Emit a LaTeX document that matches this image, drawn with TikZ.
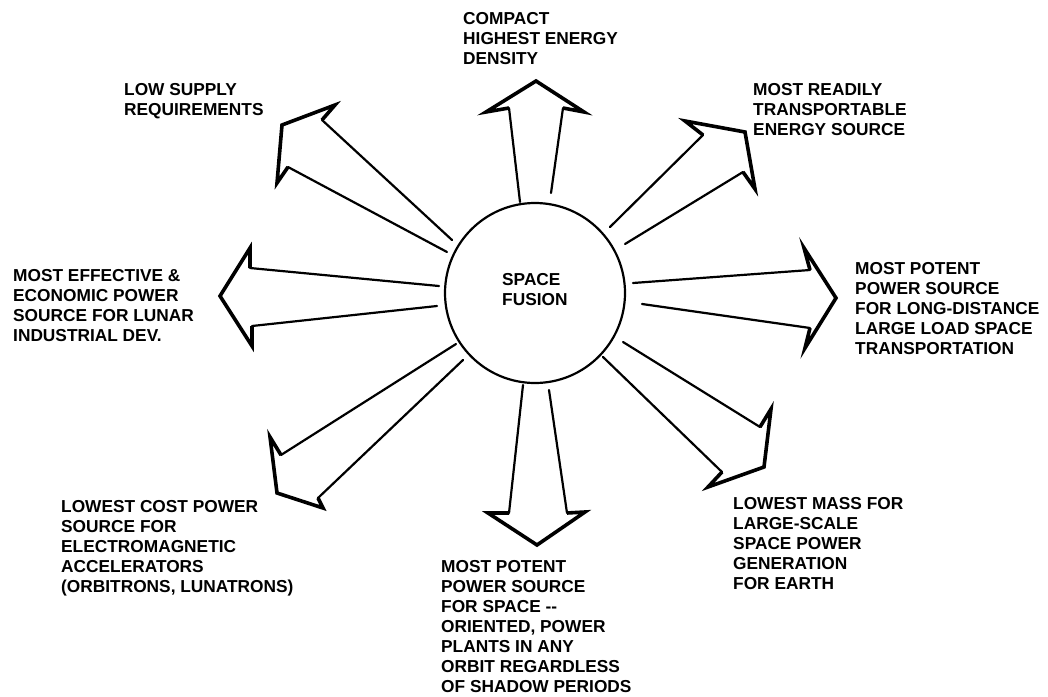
\documentclass[tikz,border=0pt]{standalone}
\usepackage{fontspec}
\setmainfont{Liberation Sans}
\newcommand\fuarrow[7]{%
  \draw[shaftline] #1 -- #2;
  \draw[shaftline] #7 -- #6;
  \draw[headline] #2 -- #3 -- #4 -- #5 -- #6;
}
\begin{document}
\begin{tikzpicture}[x=1pt,y=-1pt,
  shaftline/.style={line width=2.2pt, line cap=round},
  headline/.style={line width=3.6pt, line join=miter, line cap=butt},
  hub/.style={draw, circle, line width=2.2pt, minimum size=180pt, inner sep=0pt},
  lbl/.style={anchor=north west, inner sep=0pt, align=left,
    font={\fontsize{17.3}{20}\selectfont\bfseries}}]
\useasboundingbox (0,0) rectangle (1048,696);
\fill[white] (0,0) rectangle (1048,696);

% central circle
\node[hub] (hub) at (535,293) {};
\node[lbl] (hubtxt) at (502,273) {SPACE\\FUSION};

% arrows: start1, end1, barb1, tip, barb2, end2, start2
\fuarrow{(520,202)}{(509,108)}{(486,112)}{(536,81)}{(584,112)}{(563,108)}{(551,193)}
\fuarrow{(610,227)}{(703,135)}{(685,121)}{(745,132)}{(755,189)}{(743,172)}{(625,244)}
\fuarrow{(633,283)}{(810,270)}{(804,248)}{(836,298)}{(805,348)}{(810,328)}{(642,304)}
\fuarrow{(623,342)}{(760,427)}{(771,409)}{(764,467)}{(708,487)}{(722,472)}{(603,357)}
\fuarrow{(549,390)}{(567,513)}{(585,512)}{(537,545)}{(488,513)}{(509,513)}{(523,385)}
\fuarrow{(456,344)}{(281,455)}{(270,437)}{(277,493)}{(323,508)}{(318,498)}{(463,360)}
\fuarrow{(439,286)}{(250,268)}{(250,248)}{(220,296)}{(252,346)}{(252,326)}{(437,306)}
\fuarrow{(452,240)}{(322,120)}{(335,105)}{(282,125)}{(277,183)}{(288,167)}{(447,252)}

% labels
\node[lbl] (compact) at (463,12) {COMPACT\\HIGHEST ENERGY\\DENSITY};
\node[lbl] (lowsupply) at (124,83) {LOW SUPPLY\\REQUIREMENTS};
\node[lbl] (readily) at (753,83) {MOST READILY\\TRANSPORTABLE\\ENERGY SOURCE};
\node[lbl] (effective) at (13,269) {MOST EFFECTIVE \&\\ECONOMIC POWER\\SOURCE FOR LUNAR\\INDUSTRIAL DEV.};
\node[lbl] (potentR) at (855,262) {MOST POTENT\\POWER SOURCE\\FOR LONG-DISTANCE\\LARGE LOAD SPACE\\TRANSPORTATION};
\node[lbl] (lowcost) at (61,500) {LOWEST COST POWER\\SOURCE FOR\\ELECTROMAGNETIC\\ACCELERATORS\\(ORBITRONS, LUNATRONS)};
\node[lbl] (potentB) at (441,560) {MOST POTENT\\POWER SOURCE\\FOR SPACE -{}-\\ORIENTED, POWER\\PLANTS IN ANY\\ORBIT REGARDLESS\\OF SHADOW PERIODS};
\node[lbl] (lowmass) at (733,497) {LOWEST MASS FOR\\LARGE-SCALE\\SPACE POWER\\GENERATION\\FOR EARTH};
\end{tikzpicture}
\end{document}
